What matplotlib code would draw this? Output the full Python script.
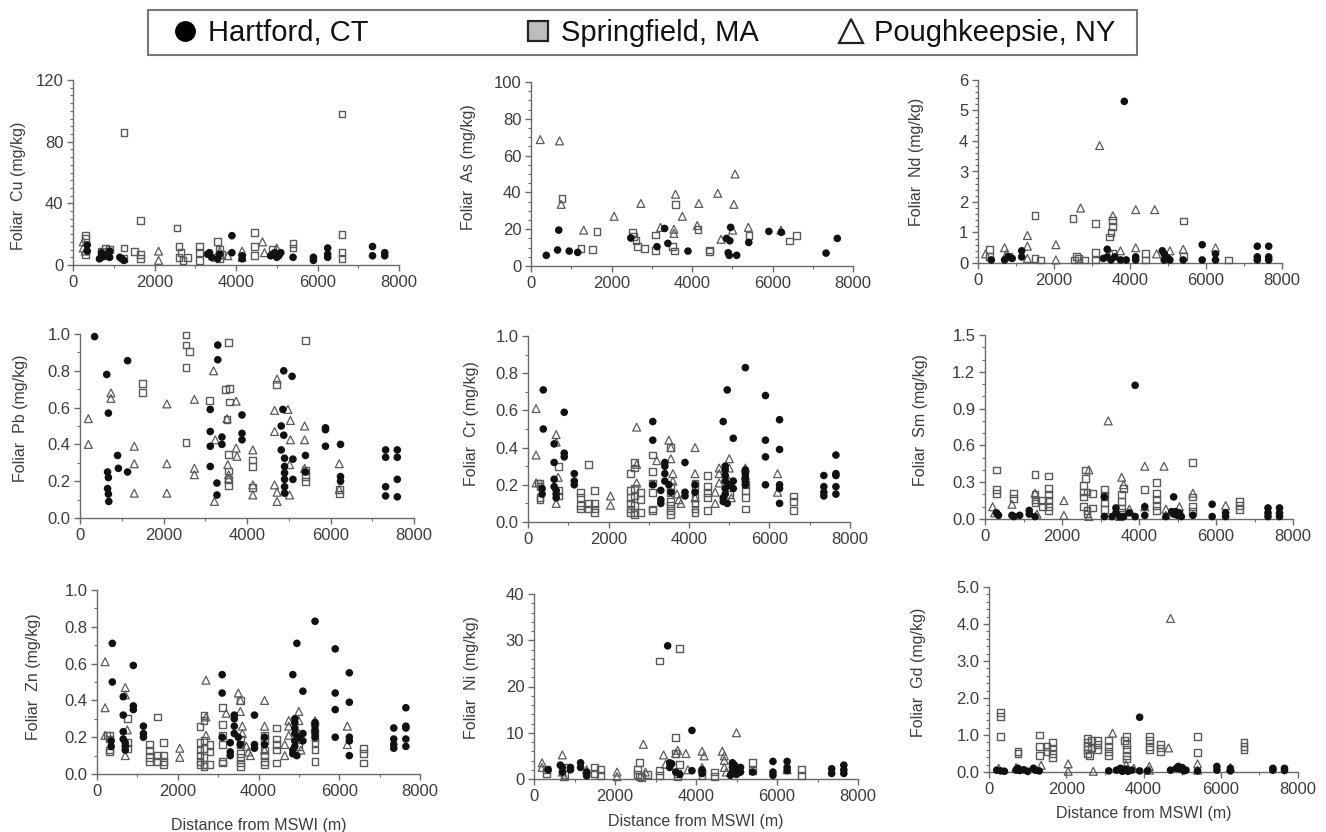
import matplotlib
matplotlib.use("Agg")
import matplotlib.pyplot as plt
from matplotlib.ticker import MultipleLocator, AutoMinorLocator, FormatStrFormatter
from matplotlib.lines import Line2D
from matplotlib.patches import Rectangle

plt.rcParams['font.family'] = ['Liberation Sans', 'DejaVu Sans']

# ---------------- data ----------------
# Cu
cu_h_x = [350, 350, 650, 700, 700, 800, 900, 900, 1150, 1200, 1250, 3300, 3350, 3400, 3550, 3600, 3900, 3900, 4150, 4150,
          4850, 4900, 4950, 5000, 5000, 5050, 5100, 5400, 5900, 5900, 6250, 6250, 6250, 7350, 7350, 7650, 7650]
cu_h_y = [13, 9, 4, 8, 5, 6, 9, 5, 5, 4, 3, 7, 8, 5, 4, 7, 19, 8, 6, 4,
          6, 7, 8, 5, 7, 6, 8, 5, 5, 3, 11, 7, 5, 12, 6, 8, 6]
cu_s_x = [300, 300, 300, 700, 800, 800, 900, 1250, 1250, 1250, 1500, 1650, 1650, 1650, 2550, 2600, 2600, 2650, 2700, 2800,
          3100, 3100, 3100, 3550, 3600, 3600, 3650, 4450, 4450, 4450, 4900, 5400, 5400, 6600, 6600, 6600, 6600]
cu_s_y = [19, 17, 7, 9, 11, 6, 10, 86, 11, 4, 9, 29, 7, 4, 24, 12, 5, 8, 3, 5,
          12, 8, 3, 15, 10, 4, 7, 21, 12, 6, 10, 14, 11, 98, 20, 8, 4]
cu_p_x = [250, 250, 300, 700, 2100, 2100, 3500, 3600, 3800, 4150, 4150, 4650, 4700, 5000]
cu_p_y = [15, 11, 9, 7, 9, 3, 5, 9, 6, 9, 5, 15, 8, 11]

# As
as_h_x = [380, 690, 660, 950, 1160, 2480, 3320, 3130, 3400, 3900, 4860, 4940, 4960, 4900, 4925, 5110, 5410, 5910, 6220, 7330, 7610]
as_h_y = [5.8, 19.5, 8.7, 8.1, 7.4, 15.2, 20.4, 10.5, 12.3, 8.1, 15, 13.7, 21, 7.2, 5.8, 5.8, 12.8, 18.8, 18.3, 7, 15]
as_s_x = [770, 1240, 1530, 1640, 2520, 2550, 2610, 2640, 2820, 3100, 3100, 3590, 3570, 3510, 4150, 4440, 4440, 5415, 6430, 6600]
as_s_y = [36.7, 9.6, 9, 18.6, 18.3, 16, 13.7, 10.8, 9.6, 16.8, 8.3, 33.3, 8.1, 10.5, 19.9, 8.7, 7.8, 16.5, 13.6, 16.6]
as_p_x = [230, 710, 750, 1310, 2065, 2730, 3220, 3550, 3550, 3590, 3760, 4170, 4130, 4640, 4720, 5070, 5040, 5010, 5400, 6210]
as_p_y = [68.7, 68, 33.5, 19.5, 27, 34, 21, 20, 17.7, 39, 27, 34, 22, 39.5, 14.5, 50, 33.5, 19.5, 21, 19.5]

# Nd
nd_h_x = [3850, 5900, 5900, 7350, 7350, 7350, 7650, 7650, 7650, 3400, 3400, 1150, 1150, 700, 800, 900, 350, 3500, 3600, 3750,
          3900, 4150, 4150, 4850, 4900, 4950, 5000, 5050, 4900, 6250, 6250, 5400, 3300]
nd_h_y = [5.3, 0.6, 0.1, 0.55, 0.2, 0.1, 0.55, 0.2, 0.1, 0.45, 0.2, 0.4, 0.2, 0.1, 0.2, 0.15, 0.1, 0.1, 0.2, 0.1,
          0.1, 0.2, 0.1, 0.4, 0.3, 0.2, 0.15, 0.1, 0.1, 0.3, 0.1, 0.1, 0.15]
nd_s_x = [300, 300, 1500, 1500, 1650, 2500, 2600, 2550, 2800, 3100, 3100, 3100, 3450, 3500, 3550, 3550, 3550, 4400, 4400, 5400,
          5400, 6600, 800, 2650]
nd_s_y = [0.45, 0.2, 1.55, 0.15, 0.1, 1.45, 0.2, 0.1, 0.1, 1.3, 0.35, 0.1, 0.85, 1.0, 1.4, 1.2, 0.3, 0.3, 0.1, 1.38,
          0.2, 0.1, 0.2, 0.15]
nd_p_x = [200, 700, 750, 1300, 1300, 2050, 2050, 2700, 3200, 3550, 3500, 3750, 4150, 4150, 4650, 4700, 5050, 5400, 6250, 1300]
nd_p_y = [0.3, 0.5, 0.3, 0.9, 0.55, 0.6, 0.1, 1.8, 3.85, 1.55, 0.3, 0.4, 1.75, 0.5, 1.75, 0.3, 0.4, 0.45, 0.5, 0.15]

# Pb
pb_h_x = [350, 640, 680, 660, 680, 660, 680, 690, 900, 920, 1140, 1140, 3120, 3120, 3120, 3120, 3300, 3300, 3280, 3280,
          3400, 3400, 3880, 3880, 3880, 4880, 5080, 4860, 4820, 4820, 4880, 4900, 4900, 4900, 4900, 4900, 4900, 5100, 5100,
          5400, 5400, 5880, 5880, 5880, 6240, 6240, 6240, 7320, 7320, 7320, 7320, 7600, 7600, 7600, 7600]
pb_h_y = [0.986, 0.78, 0.57, 0.25, 0.22, 0.16, 0.13, 0.09, 0.34, 0.27, 0.855, 0.25, 0.59, 0.47, 0.39, 0.28, 0.94, 0.86, 0.19, 0.125,
          0.44, 0.40, 0.56, 0.46, 0.425, 0.80, 0.77, 0.59, 0.50, 0.37, 0.45, 0.325, 0.28, 0.245, 0.21, 0.17, 0.135, 0.32, 0.21,
          0.34, 0.25, 0.49, 0.48, 0.39, 0.40, 0.225, 0.20, 0.37, 0.33, 0.17, 0.12, 0.37, 0.33, 0.21, 0.115]
pb_s_x = [2540, 2540, 2620, 2540, 2540, 1500, 1500, 3100, 3480, 3580, 3560, 3580, 3520, 3560, 3560, 3560, 3560, 4140, 4140,
          4140, 4700, 5400, 5400, 5400, 5400, 6210, 6210]
pb_s_y = [0.995, 0.94, 0.905, 0.82, 0.41, 0.73, 0.68, 0.64, 0.70, 0.705, 0.955, 0.63, 0.535, 0.345, 0.255, 0.21, 0.175, 0.315, 0.28,
          0.165, 0.725, 0.965, 0.26, 0.225, 0.20, 0.155, 0.13]
pb_p_x = [200, 200, 740, 740, 1300, 1300, 1300, 2080, 2080, 2080, 2740, 2740, 2740, 3200, 3240, 3220, 3520, 3540, 3560, 3560,
          3740, 3740, 3760, 4140, 4140, 4140, 4660, 4660, 4660, 4720, 4720, 4720, 4980, 5040, 5040, 5020, 5020, 5380, 5380, 5380,
          6210, 6210]
pb_p_y = [0.54, 0.40, 0.68, 0.65, 0.39, 0.295, 0.135, 0.62, 0.295, 0.135, 0.645, 0.27, 0.235, 0.80, 0.425, 0.09, 0.54, 0.29, 0.235, 0.215,
          0.635, 0.38, 0.335, 0.37, 0.18, 0.125, 0.585, 0.47, 0.18, 0.755, 0.14, 0.09, 0.59, 0.53, 0.425, 0.29, 0.125, 0.50, 0.425, 0.27,
          0.295, 0.155]

# Cr
cr_h_x = [380, 380, 650, 650, 650, 650, 700, 700, 700, 900, 900, 900, 350, 350, 1150, 1150, 1150, 3100, 3100, 3100,
          3300, 3300, 3300, 3400, 3400, 3400, 3400, 3500, 3550, 3900, 3900, 3900, 4850, 4950, 5100, 4900, 4900, 4900, 4900,
          4900, 4900, 4850, 4850, 4950, 5000, 5100, 5100, 5400, 5400, 5400, 5400, 5400, 5400, 5900, 5900, 5900, 5900, 6250,
          6250, 6250, 6250, 6250, 7350, 7350, 7350, 7350, 7650, 7650, 7650, 7650, 7650, 4150, 4150]
cr_h_y = [0.71, 0.5, 0.42, 0.32, 0.23, 0.19, 0.17, 0.15, 0.13, 0.59, 0.37, 0.35, 0.18, 0.15, 0.26, 0.22, 0.2, 0.54, 0.44, 0.2,
          0.17, 0.12, 0.1, 0.32, 0.3, 0.26, 0.22, 0.2, 0.16, 0.32, 0.16, 0.14, 0.54, 0.71, 0.45, 0.3, 0.28, 0.25, 0.22,
          0.18, 0.15, 0.13, 0.11, 0.1, 0.2, 0.22, 0.18, 0.83, 0.28, 0.26, 0.24, 0.22, 0.2, 0.68, 0.44, 0.35, 0.2, 0.55,
          0.39, 0.2, 0.18, 0.1, 0.25, 0.19, 0.16, 0.14, 0.36, 0.26, 0.25, 0.19, 0.15, 0.2, 0.16]
cr_s_x = [250, 300, 300, 300, 300, 750, 750, 750, 1300, 1300, 1300, 1300, 1500, 1500, 1500, 1650, 1650, 1650, 1650, 2550,
          2550, 2550, 2550, 2550, 2550, 2650, 2650, 2650, 2650, 2650, 2650, 2650, 2800, 2800, 2800, 3100, 3100, 3100, 3100,
          3100, 3100, 3550, 3550, 3550, 3550, 3550, 3550, 3550, 4150, 4150, 4150, 4150, 4150, 4150, 4450, 4450, 4450, 4450,
          4450, 5400, 5400, 5400, 5400, 6600, 6600, 6600, 5000, 5000]
cr_s_y = [0.21, 0.21, 0.19, 0.13, 0.12, 0.3, 0.17, 0.14, 0.16, 0.13, 0.09, 0.07, 0.31, 0.1, 0.07, 0.17, 0.1, 0.07, 0.05, 0.26,
          0.17, 0.13, 0.1, 0.07, 0.05, 0.32, 0.29, 0.18, 0.14, 0.09, 0.05, 0.04, 0.16, 0.12, 0.05, 0.36, 0.27, 0.21, 0.16,
          0.07, 0.06, 0.4, 0.19, 0.16, 0.11, 0.09, 0.06, 0.04, 0.21, 0.18, 0.13, 0.1, 0.07, 0.05, 0.25, 0.19, 0.16, 0.13,
          0.06, 0.2, 0.17, 0.13, 0.07, 0.14, 0.11, 0.06, 0.2, 0.15]
cr_p_x = [200, 200, 200, 700, 700, 750, 700, 2050, 2050, 2700, 2700, 2700, 3200, 3500, 3550, 3550, 3600, 3600, 3700, 3750,
          3800, 4150, 4150, 4150, 4650, 4650, 4750, 4750, 4750, 5000, 5000, 5000, 5050, 5400, 5400, 6200, 6200]
cr_p_y = [0.61, 0.36, 0.21, 0.47, 0.43, 0.24, 0.1, 0.14, 0.09, 0.51, 0.31, 0.21, 0.33, 0.44, 0.4, 0.34, 0.26, 0.22, 0.15, 0.12,
          0.1, 0.4, 0.26, 0.13, 0.16, 0.1, 0.29, 0.26, 0.21, 0.34, 0.29, 0.22, 0.13, 0.29, 0.25, 0.26, 0.16]

# Sm
sm_h_x = [3900, 4900, 5900, 5900, 7350, 7350, 7350, 7650, 7650, 7650, 350, 300, 700, 750, 900, 1150, 1150, 1300, 3100, 3100,
          3300, 3400, 3400, 3500, 3600, 3750, 3900, 4150, 4150, 4850, 4900, 4950, 5000, 5050, 5100, 5400, 6250, 6250, 4700]
sm_h_y = [1.09, 0.18, 0.12, 0.02, 0.09, 0.05, 0.02, 0.09, 0.05, 0.02, 0.03, 0.05, 0.03, 0.02, 0.03, 0.07, 0.04, 0.02, 0.18, 0.02,
          0.02, 0.05, 0.09, 0.02, 0.02, 0.05, 0.02, 0.1, 0.03, 0.06, 0.04, 0.06, 0.03, 0.05, 0.02, 0.03, 0.05, 0.02, 0.02]
sm_s_x = [300, 300, 300, 750, 750, 1300, 1300, 1300, 1300, 1500, 1500, 1650, 1650, 1650, 1650, 1650, 1650, 2550, 2550, 2550,
          2550, 2600, 2600, 2650, 2650, 2650, 2800, 2800, 3100, 3100, 3100, 3100, 3550, 3550, 3550, 3550, 4150, 4450, 4450,
          4450, 4450, 4450, 5400, 5400, 5400, 5400, 6600, 6600, 6600, 3600]
sm_s_y = [0.4, 0.24, 0.21, 0.21, 0.17, 0.36, 0.2, 0.16, 0.13, 0.15, 0.1, 0.35, 0.25, 0.2, 0.15, 0.1, 0.07, 0.27, 0.22, 0.18,
          0.1, 0.33, 0.4, 0.22, 0.07, 0.04, 0.21, 0.09, 0.24, 0.19, 0.13, 0.08, 0.2, 0.14, 0.09, 0.05, 0.24, 0.3, 0.21,
          0.16, 0.11, 0.07, 0.46, 0.18, 0.1, 0.06, 0.14, 0.11, 0.08, 0.25]
sm_p_x = [200, 250, 700, 1300, 1350, 2050, 2050, 2700, 2700, 3200, 3550, 3600, 3750, 4150, 4150, 4650, 4700, 4700, 5050, 5400,
          6250, 3500]
sm_p_y = [0.1, 0.05, 0.12, 0.21, 0.04, 0.15, 0.03, 0.4, 0.02, 0.8, 0.34, 0.28, 0.08, 0.43, 0.1, 0.43, 0.08, 0.03, 0.1, 0.21,
          0.11, 0.02]

# Zn (the published panel repeats the Cr values)
zn_h_x = cr_h_x
zn_h_y = cr_h_y
zn_s_x = cr_s_x
zn_s_y = cr_s_y
zn_p_x = cr_p_x
zn_p_y = cr_p_y

# Ni
ni_h_x = [3300, 3900, 3350, 3350, 3400, 3500, 3900, 350, 650, 700, 700, 900, 900, 1150, 1150, 1300, 1300, 4150, 4150, 4900,
          4900, 4900, 4950, 5000, 5000, 5100, 5100, 5400, 5900, 5900, 5900, 6250, 6250, 6250, 7350, 7350, 7650, 7650, 7650,
          4850, 3600]
ni_h_y = [28.8, 10.5, 3.5, 2.5, 3.3, 1.5, 1.8, 2, 3, 2.5, 1.5, 2.5, 2, 3.5, 2.5, 1.5, 0.7, 2, 1.2, 3.5,
          2.5, 1.5, 3, 2, 1, 2.5, 1.5, 1.5, 3.8, 1.5, 0.8, 3.8, 2.5, 1.8, 2.2, 1.2, 3, 2, 1.2,
          0.8, 1]
ni_s_x = [3100, 3600, 3500, 3500, 3600, 300, 300, 750, 750, 1500, 1500, 1650, 1650, 2550, 2550, 2600, 2600, 2650, 2800, 3100,
          3100, 3550, 3550, 4150, 4150, 4450, 4450, 5400, 5400, 6600, 6600, 5000]
ni_s_y = [25.5, 28.2, 9, 5.5, 3.2, 2, 1.2, 2.5, 1, 2.5, 1.2, 2, 0.8, 2, 1, 3.5, 0.5, 0.3, 1, 1.8,
          0.8, 1.2, 0.5, 1.5, 0.8, 1.5, 0.6, 3.5, 1.8, 2, 0.8, 1.5]
ni_p_x = [200, 200, 700, 700, 750, 2050, 2050, 2700, 2750, 3200, 3250, 3550, 3500, 3750, 3800, 4150, 4200, 4150, 4650, 4700,
          4700, 4700, 4750, 5000, 5000, 6250, 1300]
ni_p_y = [3.5, 2.5, 5.2, 1.5, 0.5, 1.5, 0.5, 7.5, 1.5, 5.2, 3.2, 6.2, 5.5, 5.5, 2, 6, 5, 2.5, 6, 5,
          4, 2.5, 1.5, 10, 2.5, 2, 2]

# Gd
gd_h_x = [3900, 200, 300, 400, 700, 750, 800, 900, 1000, 1150, 1200, 1300, 3100, 3300, 3400, 3450, 3550, 3600, 3700, 3900,
          4100, 4700, 4850, 4900, 4950, 5000, 5050, 5100, 5400, 5900, 5900, 6250, 6250, 7350, 7350, 7650, 7650]
gd_h_y = [1.48, 0.05, 0.03, 0.02, 0.05, 0.1, 0.04, 0.06, 0.02, 0.1, 0.05, 0.03, 0.03, 0.05, 0.1, 0.02, 0.08, 0.02, 0.05, 0.03,
          0.03, 0.05, 0.1, 0.15, 0.08, 0.12, 0.03, 0.05, 0.03, 0.15, 0.05, 0.1, 0.03, 0.1, 0.05, 0.1, 0.04]
gd_s_x = [300, 300, 300, 750, 750, 1300, 1300, 1300, 1500, 1500, 1650, 1650, 1650, 1650, 2550, 2550, 2550, 2550, 2550, 2600,
          2650, 2650, 2800, 2800, 2800, 3100, 3100, 3100, 3100, 3500, 3550, 3550, 3550, 3550, 3550, 4150, 4150, 4150, 4150,
          4450, 4450, 4450, 5400, 5400, 6600, 6600, 6600]
gd_s_y = [1.6, 1.5, 0.95, 0.55, 0.5, 1.0, 0.7, 0.45, 0.7, 0.55, 0.8, 0.65, 0.5, 0.4, 0.9, 0.8, 0.7, 0.6, 0.5, 0.45,
          0.85, 0.65, 0.85, 0.75, 0.6, 0.85, 0.7, 0.55, 0.45, 0.85, 0.95, 0.75, 0.6, 0.45, 0.35, 0.95, 0.85, 0.7, 0.6,
          0.75, 0.65, 0.55, 0.97, 0.52, 0.8, 0.7, 0.6]
gd_p_x = [4700, 3200, 4650, 5400, 2050, 2050, 1350, 2700, 3550, 3750, 4150, 4150, 250, 5400, 6250, 700]
gd_p_y = [4.15, 1.05, 0.65, 0.22, 0.22, 0.02, 0.18, 0.02, 0.2, 0.1, 0.15, 0.05, 0.1, 0.05, 0.12, 0.12]

city_labels = ["Hartford, CT", "Springfield, MA", "Poughkeepsie, NY"]
x_ticks = [0, 2000, 4000, 6000, 8000]

# panel spec: element, data, y max, y step, y minor divisions, y fmt, axes box (px: left, right, top, bottom), ylabel pos
panels = [
    ("Cu", (cu_h_x, cu_h_y, cu_s_x, cu_s_y, cu_p_x, cu_p_y), 120, 40, 8, "%d", (73, 399, 80, 265), (-0.145, 0.43)),
    ("As", (as_h_x, as_h_y, as_s_x, as_s_y, as_p_x, as_p_y), 100, 20, 4, "%d", (531, 853, 82, 266), (-0.17, 0.54)),
    ("Nd", (nd_h_x, nd_h_y, nd_s_x, nd_s_y, nd_p_x, nd_p_y), 6, 1, 5, "%d", (978, 1282, 80, 263), (-0.178, 0.55)),
    ("Pb", (pb_h_x, pb_h_y, pb_s_x, pb_s_y, pb_p_x, pb_p_y), 1.0, 0.2, 2, "%.1f", (80, 414, 334, 518), (-0.156, 0.54)),
    ("Cr", (cr_h_x, cr_h_y, cr_s_x, cr_s_y, cr_p_x, cr_p_y), 1.0, 0.2, 2, "%.1f", (528, 850, 336, 522), (-0.152, 0.53)),
    ("Sm", (sm_h_x, sm_h_y, sm_s_x, sm_s_y, sm_p_x, sm_p_y), 1.5, 0.3, 3, "%.1f", (985, 1293, 335, 519), (-0.185, 0.54)),
    ("Zn", (zn_h_x, zn_h_y, zn_s_x, zn_s_y, zn_p_x, zn_p_y), 1.0, 0.2, 2, "%.1f", (97, 420, 590, 774), (-0.173, 0.53)),
    ("Ni", (ni_h_x, ni_h_y, ni_s_x, ni_s_y, ni_p_x, ni_p_y), 40, 10, 5, "%d", (534, 858, 594, 779), (-0.17, 0.55)),
    ("Gd", (gd_h_x, gd_h_y, gd_s_x, gd_s_y, gd_p_x, gd_p_y), 5.0, 1.0, 5, "%.1f", (989, 1298, 587, 772), (-0.204, 0.54)),
]
xlabel_y = {"Zn": -0.24, "Ni": -0.19, "Gd": -0.185}

W, H = 1326, 832
fig = plt.figure(figsize=(W / 100, H / 100), dpi=100)
fig.patch.set_facecolor("white")

axis_col = "#6a6a6a"
text_col = "#3c3c3c"
sq_col = "#5a5a5a"
tri_col = "#5a5a5a"

for name, d, ymax, ystep, yminor, yfmt, box, ylpos in panels:
    l, r, t, b = box
    ax = fig.add_axes([l / W, 1 - b / H, (r - l) / W, (b - t) / H])
    hx, hy, sx, sy, px, py = d
    ax.scatter(sx, sy, marker="s", s=24, facecolors="none", edgecolors=sq_col, linewidths=1.0, zorder=3, clip_on=False)
    ax.scatter(px, py, marker="^", s=32, facecolors="none", edgecolors=tri_col, linewidths=0.9, zorder=3, clip_on=False)
    ax.scatter(hx, hy, marker="o", s=30, color="#111111", edgecolors="none", zorder=4, clip_on=False)
    ax.set_xlim(0, 8000)
    ax.set_ylim(0, ymax)
    ax.set_xticks(x_ticks)
    ax.xaxis.set_minor_locator(MultipleLocator(1000))
    ax.yaxis.set_major_locator(MultipleLocator(ystep))
    ax.yaxis.set_minor_locator(AutoMinorLocator(yminor))
    ax.yaxis.set_major_formatter(FormatStrFormatter(yfmt))
    for s in ("top", "right"):
        ax.spines[s].set_visible(False)
    for s in ("left", "bottom"):
        ax.spines[s].set_color(axis_col)
        ax.spines[s].set_linewidth(1.0)
    ax.tick_params(which="major", direction="out", length=4, width=1.0, color=axis_col,
                   labelsize=12, labelcolor=text_col, pad=3)
    ax.tick_params(which="minor", direction="out", length=2.5, width=0.8, color=axis_col)
    ax.set_ylabel("Foliar  %s (mg/kg)" % name, fontsize=11.5, color=text_col)
    ax.yaxis.set_label_coords(ylpos[0], ylpos[1])
    ax.set_facecolor("none")
    if name in xlabel_y:
        ax.set_xlabel("Distance from MSWI (m)", fontsize=11.5, color=text_col)
        ax.xaxis.set_label_coords(0.5, xlabel_y[name])

# legend: frame + three entries
fig.patches.append(Rectangle((148 / W, 1 - 55 / H), (1137 - 148) / W, 45 / H, transform=fig.transFigure,
                             facecolor="white", edgecolor="#777777", linewidth=1.5, zorder=0))
handles = [
    Line2D([], [], linestyle="none", marker="o", markersize=14, markerfacecolor="black", markeredgecolor="black"),
    Line2D([], [], linestyle="none", marker="s", markersize=14, markerfacecolor="#bdbdbd", markeredgecolor="#222222",
           markeredgewidth=1.6),
    Line2D([], [], linestyle="none", marker="^", markersize=17, markerfacecolor="white", markeredgecolor="#222222",
           markeredgewidth=1.6),
]
leg_fs = 21
handle_px = leg_fs * 100 / 72.0
marker_centres = [185, 538, 851]
for hdl, lab, xc in zip(handles, city_labels, marker_centres):
    lg = fig.legend([hdl], [lab], loc="center left",
                    bbox_to_anchor=((xc - handle_px / 2) / W, 1 - 33 / H),
                    fontsize=leg_fs, frameon=False, borderaxespad=0, borderpad=0,
                    handlelength=1.0, handletextpad=0.3)
    for txt in lg.get_texts():
        txt.set_color("#111111")

fig.savefig("out.png", dpi=100, facecolor="white")
